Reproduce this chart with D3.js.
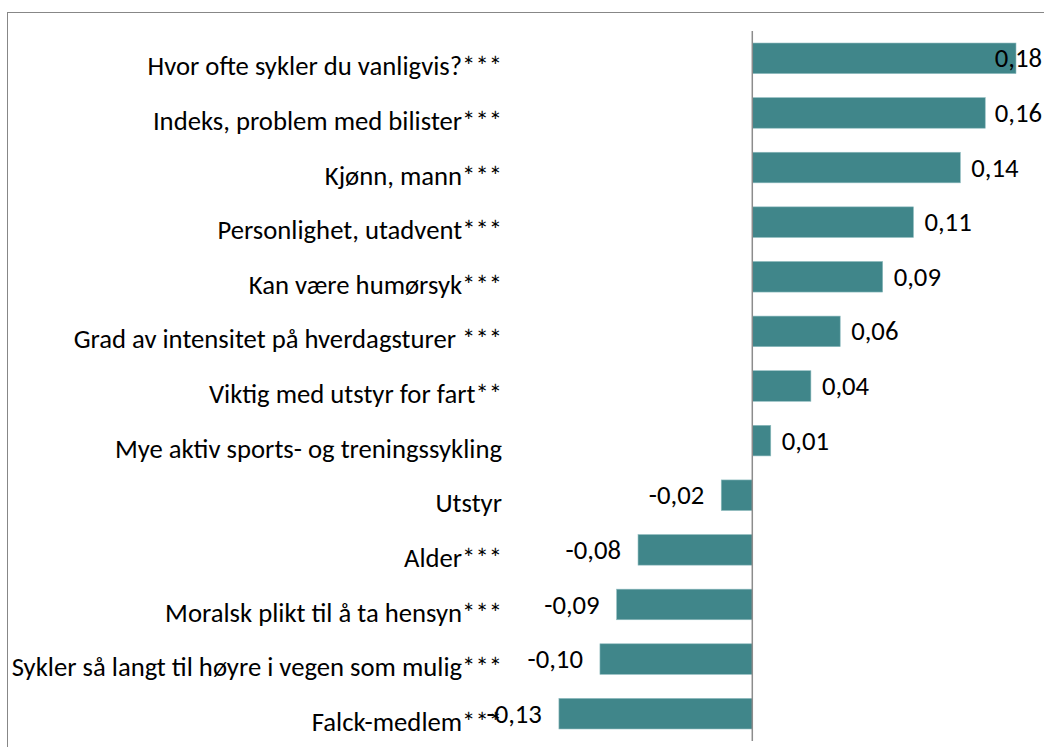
<!DOCTYPE html>
<html>
<head>
<meta charset="utf-8">
<script src="https://cdn.jsdelivr.net/npm/d3@7"></script>
<style>
  body { margin: 0; background: #fff; }
  svg { display: block; }
</style>
</head>
<body>
<script>
// categories, top to bottom
let categories = [
    "Hvor ofte sykler du vanligvis?***",
    "Indeks, problem med bilister***",
    "Kjønn, mann***",
    "Personlighet, utadvent***",
    "Kan være humørsyk***",
    "Grad av intensitet på hverdagsturer ***",
    "Viktig med utstyr for fart**",
    "Mye aktiv sports- og treningssykling",
    "Utstyr",
    "Alder***",
    "Moralsk plikt til å ta hensyn***",
    "Sykler så langt til høyre i vegen som mulig***",
    "Falck-medlem***"
];

// coefficients
let values = [0.180, 0.159, 0.142, 0.110, 0.089, 0.060, 0.040, 0.0126, -0.0212, -0.078, -0.0926, -0.104, -0.132];

let xDomain = [-0.15, 0.2];

let width = 1044, height = 747;
let axis_x = 752.3;
let pxPerUnit = 1465;

let data = categories.map((c, i) => ({name: c, value: values[i]}));

let svg = d3.select("body")
            .append("svg")
            .attr("width", width)
            .attr("height", height);

// outer chart frame (cut off at right and bottom)
svg.append("rect")
    .attr("x", 7.5)
    .attr("y", 12.5)
    .attr("width", 1100)
    .attr("height", 800)
    .style("fill", "none")
    .style("stroke", "#878787")
    .style("stroke-width", 1);

let x = d3.scaleLinear()
            .domain(xDomain)
            .range([axis_x + xDomain[0] * pxPerUnit, axis_x + xDomain[1] * pxPerUnit]);

let y = d3.scaleBand()
            .domain(categories)
            .range([31, 741])
            .paddingInner(0.44)
            .paddingOuter(0.22);

let fmt = (v) => d3.format(".2f")(v).replace(".", ",").replace("−", "-");

let font = "Carlito, Calibri, 'Open Sans', sans-serif";
let fontSize = "26.7px";

svg.selectAll("rect.bar")
    .data(data)
    .enter()
    .append("rect")
        .attr("class", "bar")
        .attr("x", (d) => x(Math.min(0, d.value)))
        .attr("y", (d) => y(d.name))
        .attr("width", (d) => Math.abs(x(d.value) - x(0)))
        .attr("height", y.bandwidth())
        .style("fill", "#40868a")
        .style("stroke", "#8fbcbf")
        .style("stroke-width", 0.6);

// vertical axis line at zero
svg.append("line")
    .attr("x1", x(0))
    .attr("x2", x(0))
    .attr("y1", 31)
    .attr("y2", 741)
    .style("stroke", "#8c8c8c")
    .style("stroke-width", 1.5);

// category labels (sit a bit lower than the bar centres, like the original)
svg.selectAll("text.cat")
    .data(data)
    .enter()
    .append("text")
        .attr("class", "cat")
        .attr("x", 502)
        .attr("y", (d) => y(d.name) + y.bandwidth() / 2)
        .attr("dy", "0.64em")
        .attr("text-anchor", "end")
        .style("font-family", font)
        .style("font-size", fontSize)
        .style("fill", "#000")
        .text((d) => d.name);

// value labels
svg.selectAll("text.val")
    .data(data)
    .enter()
    .append("text")
        .attr("class", "val")
        .attr("y", (d) => y(d.name) + y.bandwidth() / 2)
        .attr("dy", "0.34em")
        .style("font-family", font)
        .style("font-size", fontSize)
        .style("fill", "#000")
        .text((d) => fmt(d.value))
        .each(function(d) {
            let t = d3.select(this);
            let w = this.getComputedTextLength();
            if (d.value >= 0) {
                let lx = x(d.value) + 11;
                if (lx + w > 1042) lx = 1042 - w;
                t.attr("x", lx);
            } else {
                t.attr("x", x(d.value) - 17 - w);
            }
        });
</script>
</body>
</html>
